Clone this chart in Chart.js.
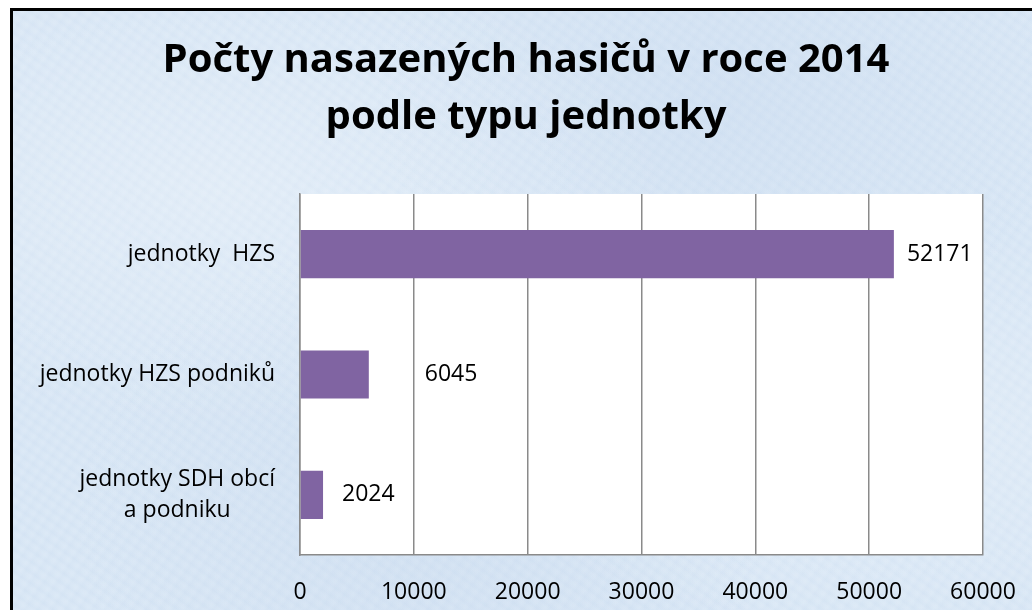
<!DOCTYPE html>
<html>
<head>
<meta charset="utf-8">
<script src="https://cdn.jsdelivr.net/npm/chart.js@4.4.1/dist/chart.umd.min.js"></script>
<style>
  html, body { margin: 0; padding: 0; width: 1032px; height: 610px; overflow: hidden; background: #ffffff; }
  #frame {
    position: absolute; left: 10px; top: 8px; width: 1022px; height: 602px;
    border-left: 3px solid #000; border-top: 3px solid #000; box-sizing: border-box;
    background-color: #d7e6f5;
    background-image:
      radial-gradient(ellipse at 20% 30%, rgba(255,255,255,0.25) 0%, rgba(255,255,255,0) 40%),
      radial-gradient(ellipse at 70% 15%, rgba(195,213,236,0.3) 0%, rgba(195,213,236,0) 35%),
      radial-gradient(ellipse at 85% 70%, rgba(255,255,255,0.22) 0%, rgba(255,255,255,0) 35%),
      radial-gradient(ellipse at 40% 85%, rgba(190,208,232,0.25) 0%, rgba(190,208,232,0) 40%),
      repeating-linear-gradient(35deg, rgba(255,255,255,0.08) 0px, rgba(255,255,255,0.08) 2px, rgba(200,215,235,0.08) 5px, rgba(255,255,255,0.08) 9px),
      repeating-linear-gradient(-55deg, rgba(190,208,232,0.08) 0px, rgba(255,255,255,0.06) 4px, rgba(190,208,232,0.08) 11px);
  }
  #wrap { position: absolute; left: 10px; top: 0px; width: 1032px; height: 610px; }
</style>
</head>
<body>
<div id="frame"></div>
<div id="wrap"><canvas id="c" width="1032" height="610"></canvas></div>
<script>
const titleLines = ["Počty nasazených hasičů v roce 2014", "podle typu jednotky"];
const categories = [["jednotky  HZS"], ["jednotky HZS podniků"], ["jednotky SDH obcí", "a podniku"]];
const values = [52171, 6045, 2024];
const xTicks = [0, 10000, 20000, 30000, 40000, 50000, 60000];

const labelGap = [13, 56, 19];
const FONT = "'Open Sans', 'Liberation Sans', sans-serif";

const customLabels = {
  id: 'customLabels',
  afterDatasetsDraw(chart) {
    const ctx = chart.ctx;
    const xs = chart.scales.x, ys = chart.scales.y;
    ctx.save();
    ctx.fillStyle = '#000';
    ctx.font = "23px " + FONT;
    ctx.textBaseline = 'middle';
    ctx.textAlign = 'left';
    values.forEach((v, i) => {
      const x = xs.getPixelForValue(v) + labelGap[i];
      const y = ys.getPixelForValue(i);
      ctx.fillText(String(v), x, y);
    });
    const right = chart.chartArea.left - 25;
    const lh = 31;
    categories.forEach((lines, i) => {
      const cy = ys.getPixelForValue(i);
      const widths = lines.map(l => ctx.measureText(l).width);
      const maxW = Math.max(...widths);
      const cx = right - maxW / 2;
      ctx.textAlign = 'center';
      lines.forEach((l, j) => {
        const y = cy + (j - (lines.length - 1) / 2) * lh;
        ctx.fillText(l, cx, y);
      });
    });
    ctx.restore();
  }
};

const plotBg = {
  id: 'plotBg',
  beforeDraw(chart) {
    const {ctx, chartArea: a} = chart;
    ctx.save();
    ctx.fillStyle = '#ffffff';
    ctx.fillRect(a.left, a.top, a.right - a.left, a.bottom - a.top);
    ctx.restore();
  }
};

new Chart(document.getElementById('c'), {
  type: 'bar',
  data: {
    labels: categories.map(c => c.join(' ')),
    datasets: [{
      data: values,
      backgroundColor: '#8064a2',
      borderWidth: 0,
      barPercentage: 0.4,
      categoryPercentage: 1.0
    }]
  },
  options: {
    indexAxis: 'y',
    responsive: false,
    animation: false,
    layout: { padding: { left: 59, right: 59, top: 32, bottom: 0 } },
    plugins: {
      legend: { display: false },
      tooltip: { enabled: false },
      title: {
        display: true,
        text: titleLines,
        color: '#000',
        font: { family: FONT, size: 40, weight: 'bold', lineHeight: 57 / 40 },
        padding: { top: 0, bottom: 48 }
      }
    },
    scales: {
      x: {
        min: 0, max: 60000,
        afterBuildTicks(scale) { scale.ticks = xTicks.map(v => ({ value: v })); },
        afterFit(scale) { scale.height = 55; },
        grid: { color: '#8a8a8a', lineWidth: 1.5, drawTicks: false },
        border: { color: '#8a8a8a', width: 1.5 },
        ticks: {
          color: '#000',
          font: { family: FONT, size: 23 },
          padding: 24,
          maxRotation: 0,
          callback: (v) => String(v)
        }
      },
      y: {
        afterFit(scale) { scale.width = 231; },
        grid: { display: false },
        border: { color: '#8a8a8a', width: 1.5 },
        ticks: { display: false }
      }
    }
  },
  plugins: [plotBg, customLabels]
});
</script>
</body>
</html>
